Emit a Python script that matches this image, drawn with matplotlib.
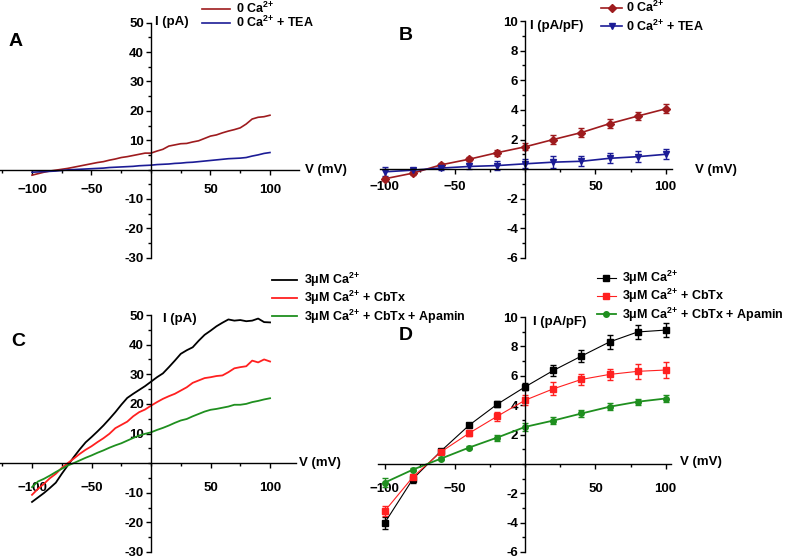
import numpy as np
import matplotlib
matplotlib.use('Agg')
import matplotlib.pyplot as plt
from matplotlib.ticker import MultipleLocator, FixedLocator

plt.rcParams['font.family'] = ['Liberation Sans', 'DejaVu Sans']
plt.rcParams['font.weight'] = 'bold'
plt.rcParams['mathtext.fontset'] = 'custom'
plt.rcParams['mathtext.rm'] = 'Liberation Sans:bold'
plt.rcParams['mathtext.it'] = 'Liberation Sans:bold'
plt.rcParams['mathtext.bf'] = 'Liberation Sans:bold'
plt.rcParams['mathtext.default'] = 'rm'

# ----------------------------------------------------------------------
# data
# ----------------------------------------------------------------------
# ramp traces (A, C): voltage grid in mV
v_trace = list(range(-100, 101, 5))

a_ca0 = [-1.9, -1.4, -0.9, -0.5, -0.2, 0.1, 0.4, 0.8, 1.2, 1.6, 2.0,
         2.4, 2.7, 3.2, 3.6, 4.1, 4.4, 4.8, 5.2, 5.6, 5.6, 6.3, 6.9,
         8.0, 8.4, 8.8, 8.9, 9.4, 9.8, 10.6, 11.4, 11.8, 12.5, 13.1,
         13.6, 14.2, 15.5, 17.2, 17.8, 18.0, 18.5]
a_ca0_tea = [-0.9, -0.8, -0.7, -0.6, -0.5, -0.3, -0.1, 0.0, 0.1, 0.2, 0.3,
             0.4, 0.5, 0.7, 0.8, 0.9, 1.0, 1.1, 1.3, 1.4, 1.5, 1.7, 1.8,
             1.9, 2.1, 2.2, 2.4, 2.5, 2.7, 2.9, 3.1, 3.3, 3.5, 3.7, 3.8,
             3.9, 4.1, 4.6, 5.0, 5.5, 5.8]

c_ca3 = [-13.1, -11.6, -10.1, -8.4, -6.6, -3.6, -0.8, 2.0, 4.6, 7.0, 8.8,
         10.7, 12.7, 14.9, 17.2, 19.7, 22.0, 23.4, 24.7, 26.0, 27.5, 29.0,
         30.3, 32.4, 34.6, 36.9, 38.1, 39.1, 41.3, 43.3, 44.7, 46.2, 47.4,
         48.5, 48.1, 48.3, 47.9, 48.1, 48.8, 47.6, 47.5]
c_ca3_cbtx = [-10.7, -8.7, -7.0, -5.1, -3.6, -1.6, 0.0, 1.5, 3.1, 4.5, 5.7,
              7.1, 8.4, 9.9, 11.8, 12.9, 14.0, 15.8, 17.2, 18.1, 19.4, 20.6,
              21.7, 22.6, 23.4, 24.5, 25.6, 27.1, 27.9, 28.7, 29.0, 29.4,
              29.6, 30.7, 32.0, 32.4, 32.7, 34.6, 34.0, 35.0, 34.3]
c_ca3_cbtx_apa = [-8.1, -6.2, -5.3, -4.2, -3.0, -1.9, -0.8, 0.0, 0.9, 1.8,
                  2.6, 3.5, 4.3, 5.2, 6.0, 6.7, 7.6, 8.5, 9.3, 9.9, 10.4,
                  11.2, 11.9, 12.7, 13.6, 14.4, 14.9, 15.8, 16.6, 17.4, 18.0,
                  18.3, 18.7, 19.1, 19.7, 19.7, 20.0, 20.6, 21.0, 21.5, 21.9]

# step protocol (B, D): voltage steps in mV
v_step = [-100, -80, -60, -40, -20, 0, 20, 40, 60, 80, 100]

b_ca0 = [-0.65, -0.27, 0.29, 0.67, 1.11, 1.51, 2.0, 2.47, 3.07, 3.58, 4.07]
b_ca0_err = [0.15, 0.12, 0.12, 0.15, 0.2, 0.25, 0.3, 0.28, 0.3, 0.28, 0.3]
b_ca0_tea = [-0.18, -0.07, 0.07, 0.18, 0.24, 0.36, 0.47, 0.53, 0.73, 0.84, 1.0]
b_ca0_tea_err = [0.3, 0.15, 0.15, 0.2, 0.3, 0.3, 0.4, 0.35, 0.35, 0.35, 0.35]

d_ca3 = [-4.0, -1.02, 0.88, 2.63, 4.06, 5.25, 6.36, 7.34, 8.3, 8.98, 9.11]
d_ca3_err = [0.4, 0.25, 0.12, 0.12, 0.2, 0.25, 0.35, 0.4, 0.45, 0.45, 0.48]
d_ca3_cbtx = [-3.2, -0.89, 0.82, 2.09, 3.24, 4.34, 5.11, 5.75, 6.09, 6.3, 6.39]
d_ca3_cbtx_err = [0.35, 0.2, 0.1, 0.2, 0.3, 0.35, 0.45, 0.35, 0.4, 0.5, 0.55]
d_ca3_cbtx_apa = [-1.27, -0.39, 0.36, 1.11, 1.79, 2.52, 2.95, 3.43, 3.89, 4.23, 4.45]
d_ca3_cbtx_apa_err = [0.3, 0.12, 0.1, 0.1, 0.2, 0.25, 0.25, 0.25, 0.25, 0.2, 0.25]

lab_a = ['0 Ca$^{2{+}}$', '0 Ca$^{2{+}}$ + TEA']
lab_c = ['3μM Ca$^{2{+}}$', '3μM Ca$^{2{+}}$ + CbTx', '3μM Ca$^{2{+}}$ + CbTx + Apamin']

DARKRED = '#9e1b1e'
NAVY = '#1c1c96'
RED = '#ff2020'
GREEN = '#1f8f1f'

# ----------------------------------------------------------------------
# layout helpers (pixel based)
# ----------------------------------------------------------------------
W, H = 786, 558
fig = plt.figure(figsize=(W / 100, H / 100), dpi=100)


def px_axes(left, right, top, bottom):
    return fig.add_axes([left / W, 1 - bottom / H, (right - left) / W, (bottom - top) / H])


def ftext(x, y, s, **kw):
    fig.text(x / W, 1 - y / H, s, **kw)


def style(ax, xlim, ylim, ymaj, ymin, xpad):
    ax.set_xlim(*xlim)
    ax.set_ylim(*ylim)
    ax.patch.set_alpha(0)
    for side in ['top', 'right']:
        ax.spines[side].set_visible(False)
    ax.spines['left'].set_position(('data', 0))
    ax.spines['bottom'].set_position(('data', 0))
    for side in ['left', 'bottom']:
        ax.spines[side].set_linewidth(1.0)
    ax.xaxis.set_major_locator(FixedLocator([-100, -50, 50, 100]))
    ax.xaxis.set_minor_locator(MultipleLocator(25))
    yt = [t for t in np.arange(ylim[0], ylim[1] + 0.01, ymaj) if abs(t) > 1e-9]
    ax.yaxis.set_major_locator(FixedLocator(yt))
    ax.yaxis.set_minor_locator(MultipleLocator(ymin))
    ax.set_yticklabels([f'{t:g}' for t in yt])
    ax.tick_params(axis='both', which='major', length=3.5, width=1, labelsize=9.5)
    ax.tick_params(axis='both', which='minor', length=2, width=1)
    ax.tick_params(axis='x', which='both', direction='out', pad=xpad)
    ax.tick_params(axis='y', which='both', direction='out', pad=1.5)


leg_kw = dict(loc='upper left', bbox_transform=fig.transFigure, frameon=False,
              fontsize=9, borderpad=0, borderaxespad=0)

# ----------------------------------------------------------------------
# A: ramp, 0 Ca
# ----------------------------------------------------------------------
axA = px_axes(0, 299, 22.7, 257.7)
style(axA, (-126.9, 124.4), (-30, 50), 10, 5, 7)
la1, = axA.plot(v_trace, a_ca0, color=DARKRED, lw=1.2)
la2, = axA.plot(v_trace, a_ca0_tea, color=NAVY, lw=1.2)
axA.legend([la1, la2], lab_a, bbox_to_anchor=(202 / W, 1 - 1 / H),
           handlelength=2.2, handletextpad=0.5, labelspacing=-0.1, **leg_kw)

# ----------------------------------------------------------------------
# B: steps, 0 Ca
# ----------------------------------------------------------------------
axB = px_axes(380, 672, 21, 258)
style(axB, (-103.5, 104.5), (-6, 10), 2, 1, 5)
hb1 = axB.errorbar(v_step, b_ca0, yerr=b_ca0_err, color=DARKRED, lw=1.2,
                   marker='D', ms=4, capsize=2.5, elinewidth=1, capthick=1)
hb2 = axB.errorbar(v_step, b_ca0_tea, yerr=b_ca0_tea_err, color=NAVY, lw=1.2,
                   marker='v', ms=5, capsize=2.5, elinewidth=1, capthick=1)
axB.legend([hb1.lines[0], hb2.lines[0]], lab_a, bbox_to_anchor=(601 / W, 1 - 0 / H),
           handlelength=1.7, handletextpad=0.3, labelspacing=0.25, **leg_kw)

# ----------------------------------------------------------------------
# C: ramp, 3 uM Ca
# ----------------------------------------------------------------------
axC = px_axes(0, 296, 315, 552)
style(axC, (-126.9, 121.8), (-30, 50), 10, 5, 10)
lc1, = axC.plot(v_trace, c_ca3, color='black', lw=1.3)
lc2, = axC.plot(v_trace, c_ca3_cbtx, color=RED, lw=1.3)
lc3, = axC.plot(v_trace, c_ca3_cbtx_apa, color=GREEN, lw=1.3)
axC.legend([lc1, lc2, lc3], lab_c, bbox_to_anchor=(272 / W, 1 - 271 / H),
           handlelength=2.0, handletextpad=0.6, labelspacing=0.0, **leg_kw)

# ----------------------------------------------------------------------
# D: steps, 3 uM Ca
# ----------------------------------------------------------------------
axD = px_axes(378, 671, 317, 552)
style(axD, (-104.9, 103.8), (-6, 10), 2, 1, 10)
hd1 = axD.errorbar(v_step, d_ca3, yerr=d_ca3_err, color='black', lw=0.8,
                   marker='s', ms=4, capsize=2.5, elinewidth=1, capthick=1)
hd2 = axD.errorbar(v_step, d_ca3_cbtx, yerr=d_ca3_cbtx_err, color=RED, lw=0.8,
                   marker='s', ms=4, capsize=2.5, elinewidth=1, capthick=1)
hd3 = axD.errorbar(v_step, d_ca3_cbtx_apa, yerr=d_ca3_cbtx_apa_err, color=GREEN,
                   lw=1.3, marker='o', ms=4, capsize=2.5, elinewidth=1, capthick=1)
axD.legend([hd1.lines[0], hd2.lines[0], hd3.lines[0]], lab_c,
           bbox_to_anchor=(597 / W, 1 - 269 / H),
           handlelength=1.5, handletextpad=0.5, labelspacing=0.0, **leg_kw)

# ----------------------------------------------------------------------
# axis names and panel letters
# ----------------------------------------------------------------------
lab_kw = dict(fontsize=9.5, fontweight='bold', va='center', ha='left')
ftext(155, 22, 'I (pA)', **lab_kw)
ftext(305, 170, 'V (mV)', **lab_kw)
ftext(530, 26, 'I (pA/pF)', **lab_kw)
ftext(695, 170, 'V (mV)', **lab_kw)
ftext(163, 319, 'I (pA)', **lab_kw)
ftext(299, 463, 'V (mV)', **lab_kw)
ftext(533, 322, 'I (pA/pF)', **lab_kw)
ftext(680, 462, 'V (mV)', **lab_kw)

let_kw = dict(fontsize=14, fontweight='bold', va='center', ha='left')
ftext(9, 42, 'A', **let_kw)
ftext(399, 35, 'B', **let_kw)
ftext(11, 341, 'C', **let_kw)
ftext(399, 336, 'D', **let_kw)

fig.savefig('out.png', dpi=100)
